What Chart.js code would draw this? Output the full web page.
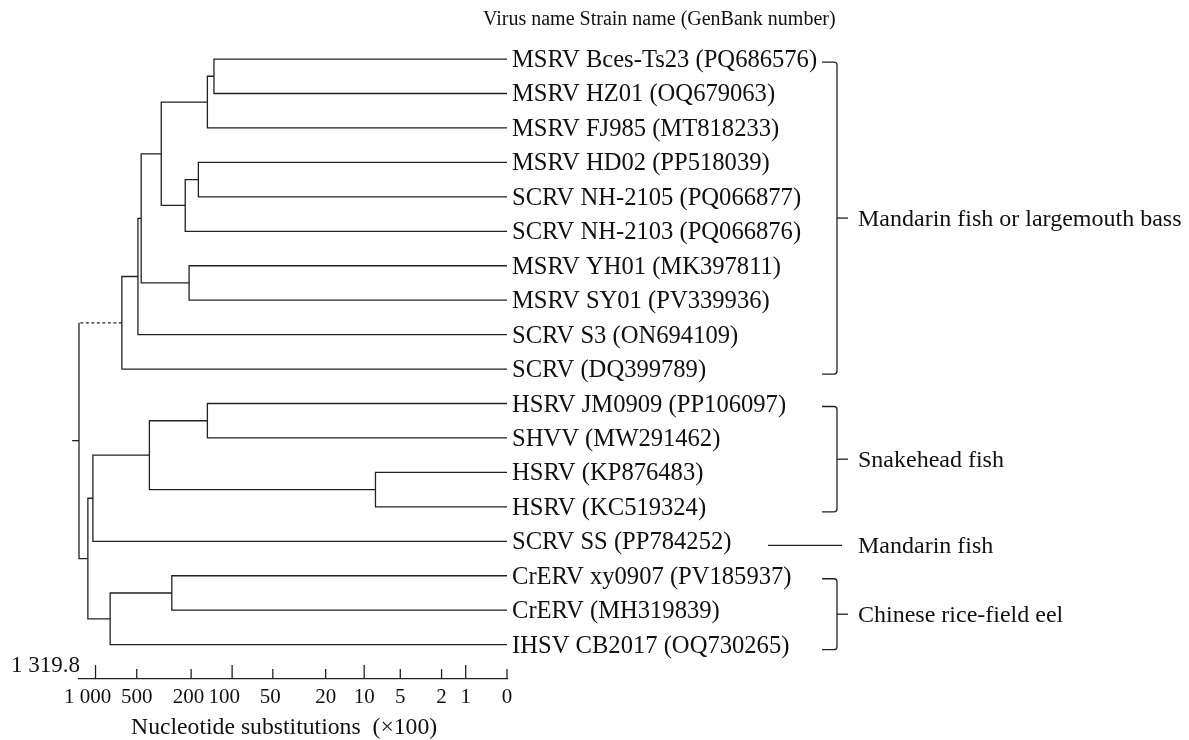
<!DOCTYPE html>
<html>
<head>
<meta charset="utf-8">
<script src="https://cdn.jsdelivr.net/npm/chart.js@4.4.1/dist/chart.umd.min.js"></script>
<style>
html,body{margin:0;background:#fff}
#wrap{width:1189px;height:740px;position:relative}
</style>
</head>
<body>
<div id="wrap"><canvas id="tree"></canvas></div>
<script>
// leaves, top to bottom
const leafNames = [
  "MSRV Bces-Ts23 (PQ686576)", "MSRV HZ01 (OQ679063)", "MSRV FJ985 (MT818233)",
  "MSRV HD02 (PP518039)", "SCRV NH-2105 (PQ066877)", "SCRV NH-2103 (PQ066876)",
  "MSRV YH01 (MK397811)", "MSRV SY01 (PV339936)", "SCRV S3 (ON694109)",
  "SCRV (DQ399789)", "HSRV JM0909 (PP106097)", "SHVV (MW291462)",
  "HSRV (KP876483)", "HSRV (KC519324)", "SCRV SS (PP784252)",
  "CrERV xy0907 (PV185937)", "CrERV (MH319839)", "IHSV CB2017 (OQ730265)"
];
// internal nodes c0..c16 : children (leaf index or clade id) and node height (substitutions x100)
const cladeKids = [
  [0,1], ["c0",2], [3,4], ["c2",5], ["c1","c3"], [6,7], ["c4","c5"], ["c6",8], ["c7",9],
  [10,11], [12,13], ["c9","c10"], ["c11",14], [15,16], ["c13",17], ["c12","c14"], ["c8","c15"]
];
const cladeHeights = [136, 152, 177, 221, 331, 207, 464, 490, 642, 152, 8.1, 404, 1045, 277, 782, 1137, 1319.8];
const rootStem = 1480;
const dottedClade = "c8";

const tickVals = [1000, 500, 200, 100, 50, 20, 10, 5, 2, 1, 0];
// trailing spaces nudge the crowded labels left, as in the figure
const tickLabels = ["1 000   ", "500", "200 ", "100   ", "50 ", "20", "10", "5", "2", "1", "0"];
const tallTicks = [1000, 100, 10, 1];
const axisMax = 1319.8;

const groupNames = ["Mandarin fish or largemouth bass", "Snakehead fish", "Mandarin fish", "Chinese rice-field eel"];
const groupFirst = [0, 10, 14, 15];
const groupLast = [9, 13, 14, 17];

const SERIF = '"Liberation Serif", "Times New Roman", serif';
const INK = "#111";
const LINE = "#222";

// axis is log(1 + substitutions)
const tx = v => Math.log10(1 + v);

const fmtNum = n => {
  const [i, d] = n.toFixed(1).split(".");
  return i.replace(/\B(?=(\d{3})+(?!\d))/g, " ") + "." + d;
};

// node positions
const nodes = {};
leafNames.forEach((n, i) => nodes[i] = {h: 0, y: i});
cladeKids.forEach((k, i) => {
  const a = nodes[k[0]], b = nodes[k[1]];
  nodes["c" + i] = {h: cladeHeights[i], y: (a.y + b.y) / 2};
});
const rootId = "c" + (cladeKids.length - 1);

const datasets = cladeKids.map((k, i) => {
  const n = nodes["c" + i], a = nodes[k[0]], b = nodes[k[1]];
  const ds = {
    data: [
      {x: tx(a.h), y: a.y}, {x: tx(n.h), y: a.y},
      {x: tx(n.h), y: b.y}, {x: tx(b.h), y: b.y}
    ]
  };
  if (k[0] === dottedClade) ds.segment = {borderDash: c => c.p0DataIndex === 0 ? [3, 2.5] : undefined};
  return ds;
});
datasets.push({data: [{x: tx(nodes[rootId].h), y: nodes[rootId].y}, {x: tx(rootStem), y: nodes[rootId].y}]});
datasets.forEach(d => Object.assign(d, {
  showLine: true, borderColor: LINE, borderWidth: 1.3, pointRadius: 0, pointHoverRadius: 0, fill: false, clip: false
}));

const line = (ctx, x1, y1, x2, y2) => { ctx.beginPath(); ctx.moveTo(x1, y1); ctx.lineTo(x2, y2); ctx.stroke(); };

const treeLabels = {
  id: "treeLabels",
  afterDraw(chart) {
    const {ctx, chartArea, scales: {x, y}} = chart;
    ctx.save();
    ctx.strokeStyle = LINE;
    ctx.fillStyle = INK;
    ctx.lineWidth = 1.3;

    // axis ticks, pointing up
    tickVals.forEach(v => {
      const px = x.getPixelForValue(tx(v));
      line(ctx, px, chartArea.bottom, px, chartArea.bottom - (tallTicks.includes(v) ? 14 : 10));
    });
    ctx.font = "23px " + SERIF;
    ctx.textAlign = "right";
    ctx.fillText(fmtNum(axisMax), chartArea.left + 1, chartArea.bottom - 7);

    // leaf labels
    const x0 = x.getPixelForValue(0) + 5;
    ctx.textAlign = "left";
    ctx.font = "24.6px " + SERIF;
    leafNames.forEach((n, i) => ctx.fillText(n, x0, y.getPixelForValue(i) + 8));

    ctx.font = "20px " + SERIF;
    ctx.fillText("Virus name Strain name (GenBank number)", x0 - 29, y.getPixelForValue(-1) + 0.5);

    // host groups
    const bx = x0 + 325;
    ctx.font = "24px " + SERIF;
    ctx.lineJoin = "round";
    groupNames.forEach((g, i) => {
      let mid;
      if (groupFirst[i] === groupLast[i]) {
        mid = y.getPixelForValue(groupFirst[i]) + 4;
        line(ctx, x0 + 256, mid, bx + 5, mid);
      } else {
        const top = y.getPixelForValue(groupFirst[i]) + 3;
        const bot = y.getPixelForValue(groupLast[i]) + 5;
        mid = (top + bot) / 2;
        ctx.beginPath();
        ctx.moveTo(bx - 15, top);
        ctx.lineTo(bx - 3, top);
        ctx.quadraticCurveTo(bx, top, bx, top + 3);
        ctx.lineTo(bx, bot - 3);
        ctx.quadraticCurveTo(bx, bot, bx - 3, bot);
        ctx.lineTo(bx - 15, bot);
        ctx.stroke();
        line(ctx, bx, mid, bx + 11, mid);
      }
      ctx.fillText(g, bx + 21, mid + 8);
    });
    ctx.restore();
  }
};

new Chart(document.getElementById("tree"), {
  type: "scatter",
  data: {datasets},
  options: {
    responsive: true,
    maintainAspectRatio: false,
    animation: false,
    events: [],
    layout: {padding: {left: 79, right: 682, top: 24.6, bottom: 0}},
    plugins: {legend: {display: false}, tooltip: {enabled: false}},
    scales: {
      x: {
        type: "linear",
        reverse: true,
        min: 0,
        max: tx(axisMax),
        afterBuildTicks: s => { s.ticks = tickVals.map(v => ({value: tx(v)})); },
        ticks: {
          autoSkip: false, maxRotation: 0, padding: 6, color: INK,
          font: {family: SERIF, size: 21},
          callback: (val, i) => tickLabels[i]
        },
        grid: {display: false, drawTicks: false},
        border: {display: true, color: LINE, width: 1.3},
        title: {
          display: true, text: "Nucleotide substitutions  (×100)   ", color: INK,
          font: {family: SERIF, size: 23.7, lineHeight: 1},
          padding: {top: 0, bottom: 0}
        }
      },
      y: {display: false, min: -1, max: 18, reverse: true}
    }
  },
  plugins: [treeLabels]
});
</script>
</body>
</html>
